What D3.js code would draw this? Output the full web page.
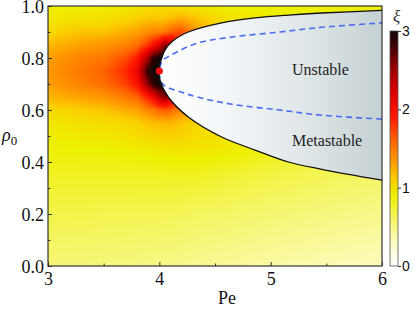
<!DOCTYPE html>
<html>
<head>
<meta charset="utf-8">
<script src="https://cdn.jsdelivr.net/npm/d3@7"></script>
<style>
  body { margin: 0; background: #fff; }
  svg { display: block; }
</style>
</head>
<body>
<div id="chart-container"></div>
<script>
// xi field on a coarse grid (rows = rho, cols = Pe)
const peGrid  = [3.0, 3.3, 3.5, 3.7, 3.8, 3.9, 3.95, 4.0, 4.05, 4.1, 4.2, 4.35, 4.6, 5.0, 5.5, 6.0];
const rhoGrid = [0, 0.2, 0.35, 0.45, 0.55, 0.6, 0.65, 0.7, 0.75, 0.8, 0.85, 0.9, 0.95, 1.0];
const xiGrid = [
  [0.55,0.54,0.53,0.52,0.51,0.50,0.50,0.50,0.49,0.49,0.48,0.46,0.44,0.40,0.36,0.32],
  [0.68,0.68,0.67,0.67,0.66,0.66,0.66,0.66,0.65,0.65,0.64,0.62,0.60,0.56,0.52,0.48],
  [0.80,0.80,0.80,0.80,0.80,0.80,0.80,0.80,0.80,0.80,0.80,0.80,0.76,0.70,0.65,0.60],
  [0.88,0.90,0.90,0.92,0.93,0.94,0.95,0.96,0.97,0.98,0.98,0.98,0.95,0.85,0.70,0.60],
  [0.95,1.00,1.02,1.05,1.10,1.15,1.18,1.18,1.20,1.20,1.15,1.05,1.00,0.90,0.75,0.60],
  [1.05,1.10,1.15,1.25,1.30,1.45,1.50,1.60,1.65,1.60,1.40,1.20,1.00,0.90,0.75,0.60],
  [1.20,1.30,1.35,1.50,1.60,1.90,2.10,2.40,2.60,2.30,1.70,1.20,1.00,0.90,0.75,0.60],
  [1.30,1.45,1.55,1.75,1.95,2.60,2.90,3.00,3.00,2.50,1.80,1.20,1.00,0.90,0.75,0.60],
  [1.35,1.50,1.60,1.85,2.10,2.90,3.00,3.00,3.00,2.50,1.80,1.20,1.00,0.90,0.80,0.80],
  [1.30,1.45,1.50,1.70,1.90,2.50,2.90,3.00,3.00,2.50,1.80,1.20,1.00,0.90,0.85,0.85],
  [1.20,1.30,1.35,1.45,1.55,1.80,2.00,2.20,2.60,2.40,1.80,1.30,1.00,0.90,0.85,0.85],
  [1.05,1.15,1.15,1.25,1.30,1.40,1.45,1.45,1.50,1.60,1.70,1.30,1.00,0.90,0.88,0.88],
  [0.95,1.00,1.00,1.05,1.10,1.15,1.15,1.15,1.15,1.20,1.25,1.15,1.00,0.92,0.90,0.90],
  [0.90,0.90,0.92,0.95,0.97,1.00,1.00,1.00,1.00,1.00,1.00,0.95,0.90,0.90,0.88,0.88]
];

// binodal (solid) from the lower right end round the tip to the upper right end
const binodalPe  = [6.0, 5.46, 5.16, 4.86, 4.56, 4.26, 4.08, 4.01, 3.995, 4.015, 4.05, 4.12, 4.26, 4.56, 4.86, 5.16, 5.46, 6.0];
const binodalRho = [0.33, 0.372, 0.40, 0.446, 0.496, 0.573, 0.65, 0.71, 0.75, 0.79, 0.83, 0.865, 0.90, 0.935, 0.954, 0.965, 0.973, 0.983];

// spinodal (dashed)
const spinodalPe  = [6.0, 5.46, 5.08, 4.64, 4.34, 4.19, 4.03, 4.0, 4.03, 4.1, 4.34, 4.64, 5.08, 5.46, 6.0];
const spinodalRho = [0.565, 0.58, 0.60, 0.623, 0.65, 0.67, 0.70, 0.75, 0.79, 0.81, 0.857, 0.88, 0.90, 0.918, 0.935];

const critical = {pe: 4.0, rho: 0.75};

const xTicks = [3, 4, 5, 6];
const xMinor = [3.5, 4.5, 5.5];
const yTicks = [0, 0.2, 0.4, 0.6, 0.8, 1.0];
const yMinor = [0.1, 0.3, 0.5, 0.7, 0.9];
const cbTicks = [0, 1, 2, 3];

// colour map for xi
const cmapVals = [0, 0.3, 0.6, 0.9, 1.1, 1.3, 1.6, 1.9, 2.2, 2.5, 2.8, 3.0];
const cmapCols = ["#ffffff", "#fcfcc4", "#f5f566", "#eef000", "#fad000", "#ffa000",
                  "#ff6400", "#ff1800", "#e00000", "#a00000", "#400000", "#120808"];

const margin = {top: 6, right: 33, bottom: 44, left: 48};
const W = 415, H = 310;
const width = W - margin.left - margin.right;
const height = H - margin.top - margin.bottom;

const x = d3.scaleLinear().domain([3, 6]).range([0, width]);
const y = d3.scaleLinear().domain([0, 1]).range([height, 0]);
const color = d3.scaleLinear().domain(cmapVals).range(cmapCols).clamp(true);

const svg = d3.select("#chart-container")
  .append("svg")
    .attr("width", W)
    .attr("height", H);

const defs = svg.append("defs");
defs.append("clipPath").attr("id", "plotclip")
  .append("rect").attr("width", width).attr("height", height);

const g = svg.append("g")
  .attr("transform", `translate(${margin.left},${margin.top})`);

// bilinear lookup on the read grid
function lookup(pe, rho) {
  const ni = peGrid.length, nj = rhoGrid.length;
  let i = Math.max(0, Math.min(ni - 2, d3.bisectRight(peGrid, pe) - 1));
  let j = Math.max(0, Math.min(nj - 2, d3.bisectRight(rhoGrid, rho) - 1));
  const t = Math.max(0, Math.min(1, (pe - peGrid[i]) / (peGrid[i + 1] - peGrid[i])));
  const u = Math.max(0, Math.min(1, (rho - rhoGrid[j]) / (rhoGrid[j + 1] - rhoGrid[j])));
  const a = xiGrid[j][i], b = xiGrid[j][i + 1], c = xiGrid[j + 1][i], d = xiGrid[j + 1][i + 1];
  return (a * (1 - t) + b * t) * (1 - u) + (c * (1 - t) + d * t) * u;
}

// heat map painted on a canvas, then put into the svg
const canvas = document.createElement("canvas");
canvas.width = Math.round(width);
canvas.height = Math.round(height);
const ctx = canvas.getContext("2d");
const img = ctx.createImageData(canvas.width, canvas.height);
for (let py = 0; py < canvas.height; py++) {
  const rho = y.invert(py + 0.5);
  for (let px = 0; px < canvas.width; px++) {
    const pe = x.invert(px + 0.5);
    const c = d3.rgb(color(lookup(pe, rho)));
    const k = (py * canvas.width + px) * 4;
    img.data[k] = c.r; img.data[k + 1] = c.g; img.data[k + 2] = c.b; img.data[k + 3] = 255;
  }
}
ctx.putImageData(img, 0, 0);

g.append("image")
  .attr("width", width)
  .attr("height", height)
  .attr("preserveAspectRatio", "none")
  .attr("href", canvas.toDataURL());

// grey fill of the coexistence region
const grey = defs.append("linearGradient")
  .attr("id", "greyfill")
  .attr("gradientUnits", "userSpaceOnUse")
  .attr("x1", x(4)).attr("x2", x(6)).attr("y1", 0).attr("y2", 0);
[[0, "#ffffff"], [0.25, "#f5f8fa"], [0.6, "#e3e9eb"], [1, "#c6d1d3"]].forEach(s =>
  grey.append("stop").attr("offset", s[0]).attr("stop-color", s[1]));

const binodal = binodalPe.map((p, i) => [p, binodalRho[i]]);
const spinodal = spinodalPe.map((p, i) => [p, spinodalRho[i]]);

const line = d3.line()
  .x(d => x(d[0]))
  .y(d => y(d[1]))
  .curve(d3.curveCatmullRom.alpha(0.5));

const plot = g.append("g").attr("clip-path", "url(#plotclip)");

plot.append("path")
  .attr("d", line(binodal) + `L${x(6.2)},${y(0.983)}L${x(6.2)},${y(0.33)}Z`)
  .attr("fill", "url(#greyfill)");

plot.append("path")
  .attr("d", line(spinodal))
  .attr("fill", "none")
  .attr("stroke", "#4a6cf0")
  .attr("stroke-width", 1.6)
  .attr("stroke-dasharray", "6,4");

plot.append("path")
  .attr("d", line(binodal))
  .attr("fill", "none")
  .attr("stroke", "#111")
  .attr("stroke-width", 1.3);

plot.append("circle")
  .attr("cx", x(critical.pe))
  .attr("cy", y(critical.rho))
  .attr("r", 3.6)
  .attr("fill", "#ee1111");

// region labels
const serif = "'Liberation Serif', 'Times New Roman', serif";
g.append("text")
  .attr("x", 292 - margin.left).attr("y", 75 - margin.top)
  .style("font-family", serif).style("font-size", "16px").style("fill", "#222")
  .text("Unstable");
g.append("text")
  .attr("x", 292 - margin.left).attr("y", 146 - margin.top)
  .style("font-family", serif).style("font-size", "16px").style("fill", "#222")
  .text("Metastable");

// axes
const xAxis = g.append("g")
  .attr("transform", `translate(0,${height})`)
  .call(d3.axisBottom(x).tickValues(xTicks).tickFormat(d3.format("d"))
        .tickSizeInner(-4).tickSizeOuter(0).tickPadding(6));
const xMin = g.append("g")
  .attr("transform", `translate(0,${height})`)
  .call(d3.axisBottom(x).tickValues(xMinor).tickFormat("")
        .tickSizeInner(-2.5).tickSizeOuter(0));
const yAxis = g.append("g")
  .call(d3.axisLeft(y).tickValues(yTicks).tickFormat(d3.format(".1f"))
        .tickSizeInner(-4).tickSizeOuter(0).tickPadding(4));
const yMin = g.append("g")
  .call(d3.axisLeft(y).tickValues(yMinor).tickFormat("")
        .tickSizeInner(-2.5).tickSizeOuter(0));

[xAxis, xMin, yAxis, yMin].forEach(a => {
  a.attr("font-family", null).attr("font-size", null);
  a.select(".domain").remove();
  a.selectAll("line").attr("stroke", "#333");
  a.selectAll("text")
    .attr("font-family", serif)
    .style("font-family", serif)
    .style("font-size", "18px")
    .style("fill", "#111");
});
yAxis.selectAll("text").attr("dy", "0.36em");

// frame
g.append("rect")
  .attr("width", width).attr("height", height)
  .attr("fill", "none")
  .attr("stroke", "#333")
  .attr("stroke-width", 1.2);

// axis titles
svg.append("text")
  .attr("x", margin.left + width / 2 + 12)
  .attr("y", H - 6)
  .attr("text-anchor", "middle")
  .style("font-family", serif).style("font-size", "18px").style("fill", "#111")
  .text("Pe");

const ylab = svg.append("text")
  .attr("x", 2)
  .attr("y", margin.top + y(0.5) + 5)
  .style("font-family", serif).style("font-size", "18px").style("fill", "#111");
ylab.append("tspan").style("font-style", "italic").text("ρ");
ylab.append("tspan").attr("dy", 4).style("font-size", "13px").text("0");

// colour bar
const cbX = 390, cbW = 8, cbTop = 31, cbBottom = margin.top + height;
const cb = d3.scaleLinear().domain([0, 3]).range([cbBottom, cbTop]);

const cbGrad = defs.append("linearGradient")
  .attr("id", "cbgrad")
  .attr("x1", 0).attr("x2", 0).attr("y1", 1).attr("y2", 0);
cmapVals.forEach((v, i) => cbGrad.append("stop")
  .attr("offset", v / 3)
  .attr("stop-color", cmapCols[i]));

svg.append("rect")
  .attr("x", cbX).attr("y", cbTop)
  .attr("width", cbW).attr("height", cbBottom - cbTop)
  .attr("fill", "url(#cbgrad)")
  .attr("stroke", "#555")
  .attr("stroke-width", 0.8);

const cbAxis = svg.append("g")
  .attr("transform", `translate(${cbX + cbW},0)`)
  .call(d3.axisRight(cb).tickValues(cbTicks).tickFormat(d3.format("d"))
        .tickSizeInner(3).tickSizeOuter(0).tickPadding(1));
cbAxis.select(".domain").remove();
cbAxis.selectAll("line").attr("stroke", "#333");
cbAxis.selectAll("text")
  .style("font-family", "'Liberation Sans', Arial, sans-serif")
  .style("font-size", "14px")
  .style("fill", "#111");

svg.append("text")
  .attr("x", cbX + 3)
  .attr("y", 22)
  .style("font-family", serif).style("font-style", "italic")
  .style("font-size", "17px").style("fill", "#333")
  .text("ξ");
</script>
</body>
</html>
